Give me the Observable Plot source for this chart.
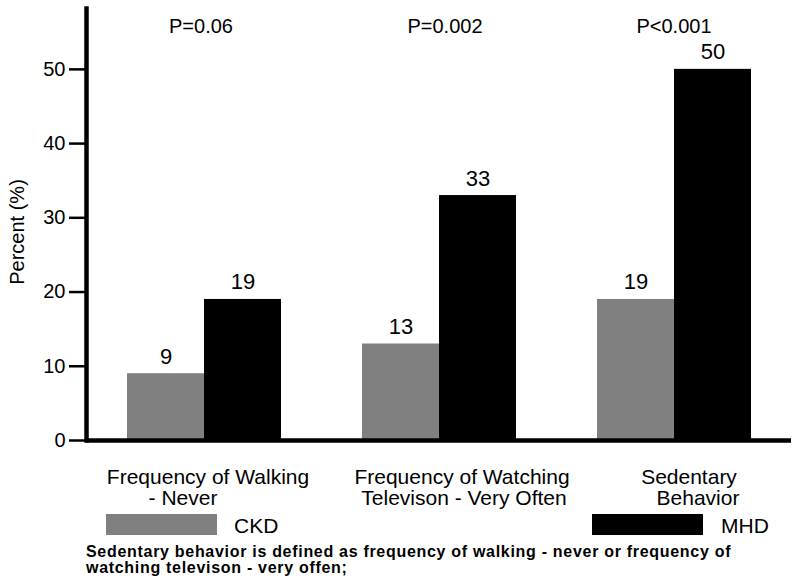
<!DOCTYPE html>
<html>
<head>
<meta charset="utf-8">
<script src="https://cdn.jsdelivr.net/npm/d3@7"></script>
<script src="https://cdn.jsdelivr.net/npm/@observablehq/plot@0.6"></script>
<style>
  html, body { margin: 0; padding: 0; background: #fff; }
  body { font-family: "Liberation Sans", Arial, sans-serif; color: #000; }
  #wrap { position: relative; width: 800px; height: 586px; overflow: hidden; }
  #chart svg { display: block; }
  .swatch { position: absolute; top: 514px; width: 111px; height: 21px; }
  .lab { position: absolute; top: 514px; height: 23px; line-height: 23px; font-size: 21px; }
  #note { position: absolute; left: 86px; top: 543.5px; font-size: 16px; letter-spacing: 0.7px;
          font-weight: bold; line-height: 16px; white-space: nowrap; }
  #ylabel { position: absolute; left: 17px; top: 232px; font-size: 20px; white-space: nowrap;
            transform: translate(-50%, -50%) rotate(-90deg); }
</style>
</head>
<body>
<div id="wrap">
  <div id="chart"></div>
  <div id="ylabel"></div>
  <div id="legend"></div>
  <div id="note"></div>
</div>
<script>
// ---- data ----
const groups = ["Walking - Never", "Watching Television - Very Often", "Sedentary Behavior"];
const groupLabels = [
  ["Frequency of Walking", "- Never"],
  ["Frequency of Watching", "Televison - Very Often"],
  ["Sedentary", "Behavior"]
];
const series = ["CKD", "MHD"];
const ckdValues = [9, 13, 19];
const mhdValues = [19, 33, 50];
const pValues = ["P=0.06", "P=0.002", "P<0.001"];
const seriesColors = ["#808080", "#000000"];
const yTicks = [0, 10, 20, 30, 40, 50];
const yMax = 58.2;
const yLabel = "Percent (%)";
const footnote = ["Sedentary behavior is defined as frequency of walking - never or frequency of",
                  "watching televison - very offen;"];

// ---- table ----
const rows = groups.flatMap((g, i) => [
  {group: g, series: series[0], value: ckdValues[i]},
  {group: g, series: series[1], value: mhdValues[i]}
]);

// label nudges (styling only)
const labelNudge = [[4, -21], [23, 25], [15, 24]];
const pNudge = [-3, 6, 0];

const labelMarks = groups.flatMap((g, i) =>
  groupLabels[i].map((line, j) =>
    Plot.text([g], {
      fx: d => d, text: () => line,
      frameAnchor: "bottom", lineAnchor: "top",
      dy: 29 + j * 21, dx: labelNudge[i][j], fontSize: 21
    })
  )
);
const pMarks = groups.map((g, i) =>
  Plot.text([g], {fx: d => d, text: () => pValues[i], frameAnchor: "top",
                  lineAnchor: "bottom", dy: 24, dx: pNudge[i], fontSize: 20})
);

const chart = Plot.plot({
  width: 800,
  height: 510,
  marginTop: 8,
  marginBottom: 70,
  marginLeft: 85,
  marginRight: 9,
  style: {fontFamily: "'Liberation Sans', Arial, sans-serif", background: "#fff", color: "#000", overflow: "visible"},
  fx: {domain: groups, padding: 0, axis: null, label: null},
  x: {domain: series, paddingInner: 0, paddingOuter: 0.5086, axis: null},
  y: {domain: [0, yMax], axis: null},
  color: {domain: series, range: seriesColors},
  marks: [
    Plot.barY(rows, {fx: "group", x: "series", y: "value", fill: "series"}),
    Plot.text(rows, {fx: "group", x: "series", y: "value", text: d => String(d.value),
                     lineAnchor: "bottom", dy: -10, fontSize: 22}),
    ...pMarks,
    ...labelMarks,
    Plot.ruleY([0], {strokeWidth: 4.5}),
    Plot.frame({anchor: "left", strokeWidth: 4.5, fx: [groups[0]]}),
    Plot.axisY({ticks: yTicks, tickSize: 17, tickPadding: 4, strokeWidth: 2.5,
                fontSize: 20, label: null})
  ]
});
document.getElementById("chart").appendChild(chart);
document.getElementById("ylabel").textContent = yLabel;

// legend (HTML)
const legend = document.getElementById("legend");
const legendPos = [{sw: 106, tx: 234}, {sw: 592, tx: 721}];
series.forEach((s, i) => {
  const sw = document.createElement("div");
  sw.className = "swatch";
  sw.style.left = legendPos[i].sw + "px";
  sw.style.background = seriesColors[i];
  legend.appendChild(sw);
  const t = document.createElement("div");
  t.className = "lab";
  t.style.left = legendPos[i].tx + "px";
  t.textContent = s;
  legend.appendChild(t);
});
document.getElementById("note").innerHTML = footnote.join("<br>");
</script>
</body>
</html>
